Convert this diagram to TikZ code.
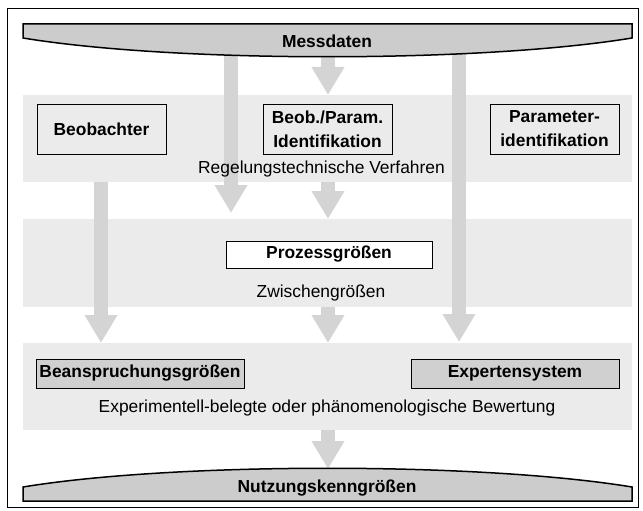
\documentclass[tikz,border=0pt]{standalone}
\usepackage{fontspec}
\setmainfont{Liberation Sans}
\usetikzlibrary{arrows.meta}
\definecolor{bandgray}{HTML}{EBEBEB}
\definecolor{arrowgray}{HTML}{D4D4D4}
\definecolor{bannergray}{HTML}{CCCCCC}
\definecolor{boxgray}{HTML}{D0D0D0}
\tikzset{
  band/.style={fill=bandgray, draw=none},
  banner/.style={fill=bannergray, draw=black, line width=1.5pt, line join=miter},
  blockarrow/.style={draw=arrowgray, line width=14pt,
     -{Triangle[width=31pt,length=28pt]}, arrowgray},
  box/.style={draw=black, line width=0.9pt, inner sep=0pt, align=center,
     font=\fontsize{17.4}{24}\selectfont\bfseries},
  plain/.style={inner sep=0pt, font=\fontsize{17.4}{24}\selectfont},
  titletext/.style={inner sep=0pt, font=\fontsize{17.4}{24}\selectfont\bfseries},
}
\begin{document}
\begin{tikzpicture}[x=1pt,y=-1pt]
\useasboundingbox (0,0) rectangle (643,511);
% outer frame
\draw[line width=1pt] (7,9) rectangle (638,507);
% bands
\fill[band] (23,95) rectangle (632,182);
\fill[band] (23,219) rectangle (632,307);
\fill[band] (23,343) rectangle (632,430);
% arrow end points
\coordinate (a1s) at (328,48);  \coordinate (a1e) at (328,95);
\coordinate (a2s) at (231,48);  \coordinate (a2e) at (231,213);
\coordinate (a3s) at (459,48);  \coordinate (a3e) at (459,342);
\coordinate (a4s) at (101,182); \coordinate (a4e) at (101,343);
\coordinate (a5s) at (328,182); \coordinate (a5e) at (328,219);
\coordinate (a6s) at (328,307); \coordinate (a6e) at (328,343);
\coordinate (a7s) at (328,430); \coordinate (a7e) at (328,469);
\draw[blockarrow] (a1s) -- (a1e);
\draw[blockarrow] (a2s) -- (a2e);
\draw[blockarrow] (a3s) -- (a3e);
\draw[blockarrow] (a4s) -- (a4e);
\draw[blockarrow] (a5s) -- (a5e);
\draw[blockarrow] (a6s) -- (a6e);
\draw[blockarrow] (a7s) -- (a7e);
% banners
\draw[banner] (23,24) -- (632,24) -- (632,38) .. controls (480,63) and (175,63) .. (23,38) -- cycle;
\node[titletext] (mess) at (327,41) {Messdaten};
\draw[banner] (23,501) -- (632,501) -- (632,487) .. controls (480,462) and (175,462) .. (23,487) -- cycle;
\node[titletext] (nutz) at (327,488) {Nutzungskenngrößen};
% band 1
\node[box, fill=bandgray, minimum width=129pt, minimum height=50pt] (beob) at (101.5,129) {Beobachter};
\node[box, fill=bandgray, minimum width=129pt, minimum height=50pt] (bp) at (327.5,129) {Beob./Param.\\Identifikation};
\node[box, fill=bandgray, minimum width=129pt, minimum height=50pt] (pid) at (554.5,129) {Parameter-\\identifikation};
\node[plain] (regel) at (321.5,169) {Regelungstechnische Verfahren};
% band 2
\node[box, fill=white, minimum width=206pt, minimum height=27pt] (proz) at (329,254.5) {Prozessgrößen};
\node[plain] (zw) at (321,293) {Zwischengrößen};
% band 3
\node[box, fill=boxgray, minimum width=208pt, minimum height=29pt] (bean) at (140,373.5) {Beanspruchungsgrößen};
\node[box, fill=boxgray, minimum width=208pt, minimum height=29pt] (exp) at (515,373.5) {Expertensystem};
\node[plain] (bew) at (327,408) {Experimentell-belegte oder phänomenologische Bewertung};
\end{tikzpicture}
\end{document}
